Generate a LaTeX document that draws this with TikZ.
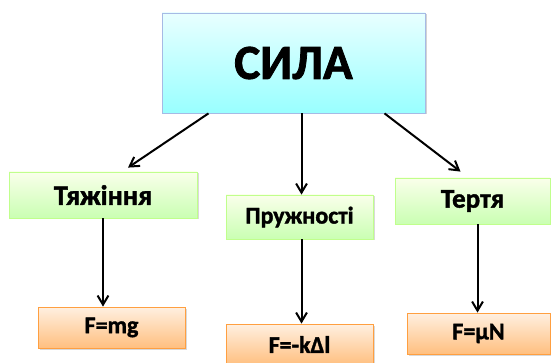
\documentclass[tikz,border=0pt]{standalone}
\usepackage{fontspec}
\setmainfont{Carlito}[BoldFeatures={FakeBold=1.6}]
\usepackage{tikz}
\usetikzlibrary{arrows.meta,shadows}

\begin{document}
\begin{tikzpicture}[
  x=1pt,y=-1pt,
  mainbox/.style={draw=cyan!45!blue!35,line width=0.8pt,top color=cyan!9,
                  bottom color=cyan!40,inner sep=0pt,font=\bfseries\fontsize{49}{49}\selectfont,
                  drop shadow={shadow xshift=1.5pt,shadow yshift=-1.5pt,opacity=0.35}},
  kindbox/.style={draw=lime!60!green!45,line width=0.8pt,top color=lime!8!white,
                  bottom color=lime!40!green!30,inner sep=0pt,
                  drop shadow={shadow xshift=1.5pt,shadow yshift=-1.5pt,opacity=0.3}},
  lawbox/.style={draw=orange!75,line width=0.8pt,top color=orange!12,
                 bottom color=orange!50,inner sep=0pt,font=\bfseries\fontsize{24}{24}\selectfont,
                 drop shadow={shadow xshift=1.5pt,shadow yshift=-1.5pt,opacity=0.3}},
  flow/.style={-{Straight Barb[length=3.2mm,width=3.8mm]},line width=2pt}
]
\useasboundingbox (0,0) rectangle (551,363);

\node[mainbox,minimum width=263pt,minimum height=100pt] (sila) at (293.5,63) {СИЛА};

\node[kindbox,minimum width=188pt,minimum height=46pt,font=\bfseries\fontsize{28}{28}\selectfont]
  (tyazh) at (103,195) {Тяжіння};
\node[kindbox,minimum width=147pt,minimum height=44pt,font=\bfseries\fontsize{24}{24}\selectfont]
  (pruzh) at (299.5,217) {Пружності};
\node[kindbox,minimum width=155pt,minimum height=46pt,font=\bfseries\fontsize{27}{27}\selectfont]
  (tertya) at (472.5,201) {Тертя};

\node[lawbox,minimum width=147pt,minimum height=41pt] (fmg) at (111.5,327.5) {F=mg};
\node[lawbox,minimum width=147pt,minimum height=41pt] (fkl) at (299.5,344.5) {F=-kΔl};
\node[lawbox,minimum width=143pt,minimum height=41pt] (fmn) at (478.5,333.5) {F=μN};

\coordinate (s1) at ([xshift=-85pt]sila.south);
\coordinate (s3) at ([xshift=91pt]sila.south);
\draw[flow] (s1) -- ([xshift=25pt,yshift=4pt]tyazh.north);
\draw[flow] ([xshift=8pt]sila.south) -- ([xshift=2pt]pruzh.north);
\draw[flow] (s3) -- ([xshift=-12pt,yshift=6pt]tertya.north);

\draw[flow] (tyazh.south) -- (tyazh.south |- fmg.north);
\draw[flow] ([xshift=2pt]pruzh.south) -- ([xshift=2pt]pruzh.south |- fkl.north);
\draw[flow] ([xshift=5pt]tertya.south) -- ([xshift=5pt]tertya.south |- fmn.north);
\end{tikzpicture}
\end{document}
